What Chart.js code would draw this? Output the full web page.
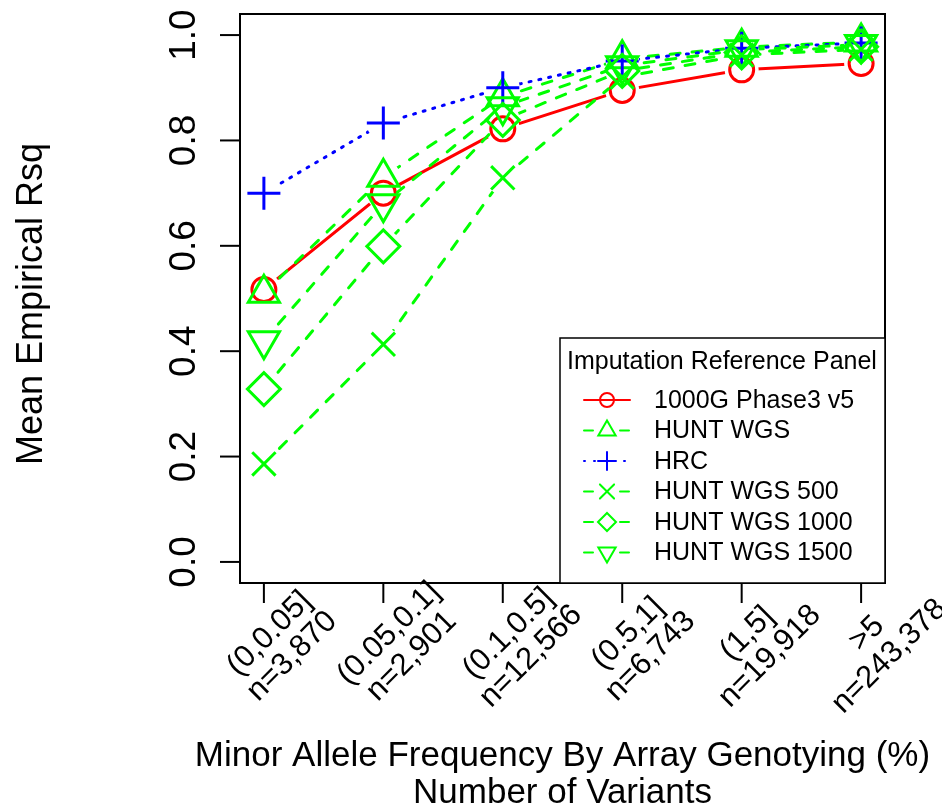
<!DOCTYPE html>
<html>
<head>
<meta charset="utf-8">
<script src="https://cdn.jsdelivr.net/npm/chart.js@4.4.0/dist/chart.umd.min.js"></script>
<style>
  html, body { margin: 0; padding: 0; background: #fff; }
</style>
</head>
<body>
<canvas id="grafico" width="942" height="812"></canvas>
<script>
// Categorias de MAF (posiciones 1..6) y etiquetas del eje X
const categorias = [1, 2, 3, 4, 5, 6];
const etiquetasMaf = ['(0,0.05]', '(0.05,0.1]', '(0.1,0.5]', '(0.5,1]', '(1,5]', '>5'];
const etiquetasN = ['n=3,870', 'n=2,901', 'n=12,566', 'n=6,743', 'n=19,918', 'n=243,378'];
const ticksY = [0, 0.2, 0.4, 0.6, 0.8, 1.0];

// Valores (Mean Empirical Rsq)
const rsq1000G = [0.517, 0.700, 0.822, 0.895, 0.934, 0.946];
const rsqHuntWgs = [0.510, 0.730, 0.883, 0.955, 0.977, 0.987];
const rsqHrc = [0.700, 0.833, 0.900, 0.951, 0.975, 0.985];
const rsqHunt500 = [0.186, 0.413, 0.729, 0.920, 0.962, 0.973];
const rsqHunt1000 = [0.328, 0.599, 0.839, 0.932, 0.967, 0.978];
const rsqHunt1500 = [0.420, 0.680, 0.864, 0.942, 0.972, 0.982];

const FUENTE = '"Liberation Sans", Arial, Helvetica, sans-serif';
const ROJO = '#ff0000';
const VERDE = '#00ff00';
const AZUL = '#0000ff';
const HUECO = 17; // hueco alrededor de cada punto (type = "b" de R)

function puntos(valores) {
    return categorias.map((c, i) => ({ x: c, y: valores[i] }));
}

// Series: etiqueta, datos, color, trazo, marcador
const series = [
    { label: '1000G Phase3 v5', data: rsq1000G, color: ROJO, dash: [], style: 'circle', rot: 0, r: 12, rLey: 7 },
    { label: 'HUNT WGS', data: rsqHuntWgs, color: VERDE, dash: [10, 12], style: 'triangle', rot: 0, r: 18, rLey: 10 },
    { label: 'HRC', data: rsqHrc, color: AZUL, dash: [2, 8], style: 'cross', rot: 0, r: 16.5, rLey: 9 },
    { label: 'HUNT WGS 500', data: rsqHunt500, color: VERDE, dash: [10, 12], style: 'crossRot', rot: 0, r: 16.5, rLey: 10 },
    { label: 'HUNT WGS 1000', data: rsqHunt1000, color: VERDE, dash: [10, 12], style: 'rectRot', rot: 0, r: 16.5, rLey: 9 },
    { label: 'HUNT WGS 1500', data: rsqHunt1500, color: VERDE, dash: [10, 12], style: 'triangle', rot: 180, r: 18, rLey: 10 }
];

// Recorta la linea alrededor de sus puntos
const huecos = {
    id: 'huecos',
    beforeDatasetDraw(chart, args) {
        const ds = chart.data.datasets[args.index];
        if (!ds.conHueco) return;
        const ctx = chart.ctx;
        ctx.save();
        ctx.beginPath();
        ctx.rect(0, 0, chart.width, chart.height);
        args.meta.data.forEach(p => {
            ctx.moveTo(p.x + HUECO, p.y);
            ctx.arc(p.x, p.y, HUECO, 0, Math.PI * 2);
        });
        ctx.clip('evenodd');
    },
    afterDatasetDraw(chart, args) {
        const ds = chart.data.datasets[args.index];
        if (ds.conHueco) chart.ctx.restore();
    }
};

// Marco, ejes, titulos y leyenda al estilo de R
const marcoR = {
    id: 'marcoR',
    afterDraw(chart) {
        const { ctx, chartArea: a, scales: { x, y } } = chart;
        ctx.save();
        ctx.strokeStyle = '#000';
        ctx.fillStyle = '#000';
        ctx.lineWidth = 2;
        ctx.lineCap = 'butt';
        ctx.setLineDash([]);
        ctx.strokeRect(a.left, a.top, a.right - a.left, a.bottom - a.top);

        // Eje Y
        ticksY.forEach(v => {
            const py = y.getPixelForValue(v);
            ctx.beginPath();
            ctx.moveTo(a.left - 20, py);
            ctx.lineTo(a.left, py);
            ctx.stroke();
            ctx.save();
            ctx.translate(195, py);
            ctx.rotate(-Math.PI / 2);
            ctx.font = '37px ' + FUENTE;
            ctx.textAlign = 'center';
            ctx.textBaseline = 'alphabetic';
            ctx.fillText(v.toFixed(1), 0, 0);
            ctx.restore();
        });

        // Eje X
        categorias.forEach((c, i) => {
            const px = x.getPixelForValue(c);
            ctx.beginPath();
            ctx.moveTo(px, a.bottom);
            ctx.lineTo(px, a.bottom + 20);
            ctx.stroke();
            ctx.save();
            ctx.translate(px + 17, a.bottom + 62);
            ctx.rotate(-Math.PI / 4);
            ctx.font = '31px ' + FUENTE;
            ctx.textAlign = 'center';
            ctx.textBaseline = 'middle';
            ctx.fillText(etiquetasMaf[i], 0, -16);
            ctx.fillText(etiquetasN[i], 0, 16);
            ctx.restore();
        });

        // Titulos de los ejes
        ctx.font = '35px ' + FUENTE;
        ctx.textAlign = 'center';
        ctx.textBaseline = 'alphabetic';
        const cx = (a.left + a.right) / 2;
        ctx.fillText('Minor Allele Frequency By Array Genotying (%)', cx, 766);
        ctx.fillText('Number of Variants', cx, 803);

        ctx.save();
        ctx.translate(42, 304);
        ctx.rotate(-Math.PI / 2);
        ctx.font = '36px ' + FUENTE;
        ctx.fillText('Mean Empirical Rsq', 0, 0);
        ctx.restore();

        // Leyenda
        const lx = 560, ly = 338;
        ctx.fillStyle = '#fff';
        ctx.fillRect(lx, ly, a.right - lx, a.bottom - ly);
        ctx.lineWidth = 1.5;
        ctx.strokeStyle = '#000';
        ctx.strokeRect(lx, ly, a.right - lx, a.bottom - ly);
        ctx.fillStyle = '#000';
        ctx.font = '25px ' + FUENTE;
        ctx.textAlign = 'left';
        ctx.fillText('Imputation Reference Panel', 567, 369);

        ctx.textBaseline = 'middle';
        series.forEach((s, i) => {
            const yy = 400 + i * 30.5;
            ctx.strokeStyle = s.color;
            ctx.lineWidth = 2;
            ctx.lineCap = 'round';
            if (s.color === VERDE) {
                ctx.setLineDash([9, 27]);
            } else if (s.color === AZUL) {
                ctx.setLineDash([1, 9]);
            } else {
                ctx.setLineDash([]);
            }
            ctx.beginPath();
            ctx.moveTo(584, yy);
            ctx.lineTo(630, yy);
            ctx.stroke();
            ctx.setLineDash([]);
            ctx.fillStyle = 'rgba(0,0,0,0)';
            Chart.helpers.drawPoint(ctx, {
                pointStyle: s.style, rotation: s.rot, radius: s.rLey, borderWidth: 2
            }, 607, yy);
            ctx.fillStyle = '#000';
            ctx.fillText(s.label, 654, yy + 1);
        });
        ctx.restore();
    }
};

// Cada serie: una linea (con huecos) y sus marcadores encima
const datasets = [];
series.forEach((s, i) => {
    const orden = (series.length - i) * 2;
    datasets.push({
        label: s.label,
        data: puntos(s.data),
        conHueco: true,
        borderColor: s.color,
        borderWidth: 3,
        borderDash: s.dash,
        borderCapStyle: 'round',
        pointRadius: 0,
        tension: 0,
        fill: false,
        clip: false,
        order: orden
    });
    datasets.push({
        label: s.label + ' (puntos)',
        data: puntos(s.data),
        showLine: false,
        pointStyle: s.style,
        pointRotation: s.rot,
        pointRadius: s.r,
        pointBorderWidth: 3,
        pointBorderColor: s.color,
        pointBackgroundColor: 'rgba(0,0,0,0)',
        clip: false,
        order: orden - 1
    });
});

const ctx = document.getElementById('grafico').getContext('2d');
const grafico = new Chart(ctx, {
    type: 'line',
    data: { datasets: datasets },
    options: {
        responsive: false,
        devicePixelRatio: 1,
        animation: false,
        layout: {
            autoPadding: false,
            padding: { left: 240, top: 14, right: 57, bottom: 229 }
        },
        plugins: {
            legend: { display: false },
            tooltip: { enabled: false }
        },
        scales: {
            x: { type: 'linear', min: 0.8, max: 6.2, display: false },
            y: { type: 'linear', min: -0.04, max: 1.04, display: false }
        }
    },
    plugins: [huecos, marcoR]
});
</script>
</body>
</html>
